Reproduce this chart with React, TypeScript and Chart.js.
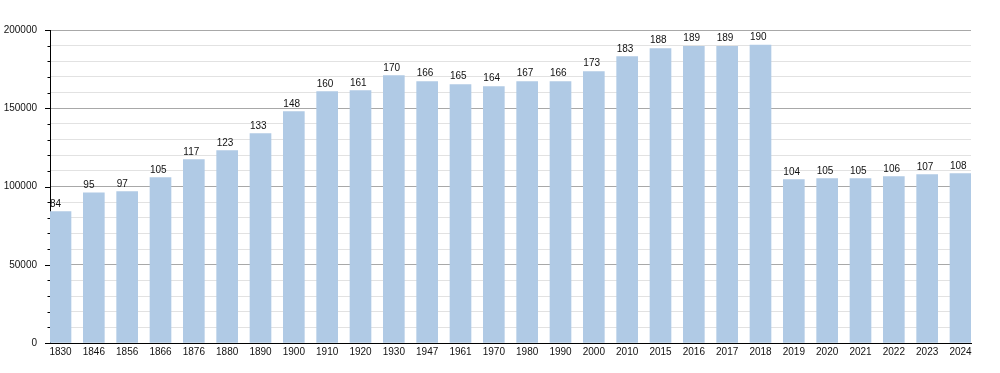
import React, { useEffect, useRef } from "react";
import { Chart, registerables } from "chart.js";

Chart.register(...registerables);

const categories = ["1830","1846","1856","1866","1876","1880","1890","1900","1910","1920","1930","1947","1961","1970","1980","1990","2000","2010","2015","2016","2017","2018","2019","2020","2021","2022","2023","2024"];
const populations = [84000, 96000, 96700, 105700, 117200, 123000, 133800, 147900, 160700, 161300, 170900, 167100, 165200, 163900, 167100, 167100, 173500, 183000, 188200, 189600, 189600, 190300, 104400, 105000, 105000, 106300, 107600, 108200];
const barLabels = ["84","95","97","105","117","123","133","148","160","161","170","166","165","164","167","166","173","183","188","189","189","190","104","105","105","106","107","108"];
const yMax = 200000;
const yStep = 10000;
const yMajorStep = 50000;

const FONT = '"Liberation Sans", Arial, Helvetica, sans-serif';

export default function App() {
  const ref = useRef<HTMLCanvasElement | null>(null);
  useEffect(() => {
    if (!ref.current) return;
    const barLabelPlugin = {
      id: "barLabels",
      afterDatasetsDraw(chart: any) {
        const ctx = chart.ctx;
        const meta = chart.getDatasetMeta(0);
        ctx.save();
        ctx.font = `10px ${FONT}`;
        ctx.fillStyle = "#111";
        ctx.textAlign = "left";
        ctx.textBaseline = "alphabetic";
        meta.data.forEach((bar: any, i: number) => {
          const p = bar.getProps(["x", "y", "width"], true);
          ctx.fillText(barLabels[i], p.x - p.width / 2, p.y - 5);
        });
        ctx.restore();
      },
    };
    const yTickPlugin = {
      id: "yTicks",
      afterDraw(chart: any) {
        const ctx = chart.ctx;
        const ys = chart.scales.y;
        const left = chart.chartArea.left;
        ctx.save();
        ctx.strokeStyle = "#000";
        ctx.lineWidth = 1;
        for (let v = 0; v <= yMax; v += yStep) {
          const py = Math.round(ys.getPixelForValue(v)) + 0.5;
          const len = v % yMajorStep === 0 ? 5 : 2.5;
          ctx.beginPath();
          ctx.moveTo(left - len, py);
          ctx.lineTo(left, py);
          ctx.stroke();
        }
        ctx.restore();
      },
    };
    const n = categories.length;
    const chart = new Chart(ref.current, {
      type: "bar",
      data: {
        datasets: [
          {
            data: populations.map((v, i) => ({ x: i, y: v })),
            backgroundColor: "rgb(176,202,229)",
            borderWidth: 0,
            barThickness: 21,
          },
        ],
      },
      options: {
        animation: false,
        responsive: false,
        layout: { padding: { top: 30, right: 29, left: 0, bottom: 0 } },
        plugins: { legend: { display: false }, tooltip: { enabled: false } },
        scales: {
          x: {
            type: "linear",
            offset: false,
            min: -0.315,
            max: n - 1 + 0.315,
            grid: { display: false, offset: false, drawTicks: false, tickLength: 0 },
            border: { display: true, color: "#000", width: 1 },
            afterBuildTicks: (scale: any) => {
              scale.ticks = categories.map((_, i) => ({ value: i }));
            },
            afterFit: (scale: any) => {
              scale.height = 30;
            },
            ticks: {
              autoSkip: false,
              maxRotation: 0,
              padding: 3,
              color: "#111",
              font: { family: FONT, size: 10 },
              callback: (_v: any, i: number) => categories[i],
            },
          },
          y: {
            min: 0,
            max: yMax,
            afterFit: (scale: any) => {
              scale.width = 50;
            },
            grid: {
              color: (c: any) => (c.tick && c.tick.value % yMajorStep === 0 ? "#a8a8a8" : "#e2e2e2"),
              tickLength: 5,
              tickColor: "rgba(0,0,0,0)",
            },
            border: { display: true, color: "#000", width: 1 },
            ticks: {
              stepSize: yStep,
              padding: 8,
              color: "#111",
              font: { family: FONT, size: 10 },
              callback: (v: any) => (Number(v) % yMajorStep === 0 ? String(v) : ""),
            },
          },
        },
      },
      plugins: [barLabelPlugin, yTickPlugin],
    } as any);
    return () => chart.destroy();
  }, []);
  return (
    <div style={{ position: "absolute", left: 0, top: 0, width: 1000, height: 373, background: "#fff" }}>
      <canvas ref={ref} width={1000} height={373} />
    </div>
  );
}
